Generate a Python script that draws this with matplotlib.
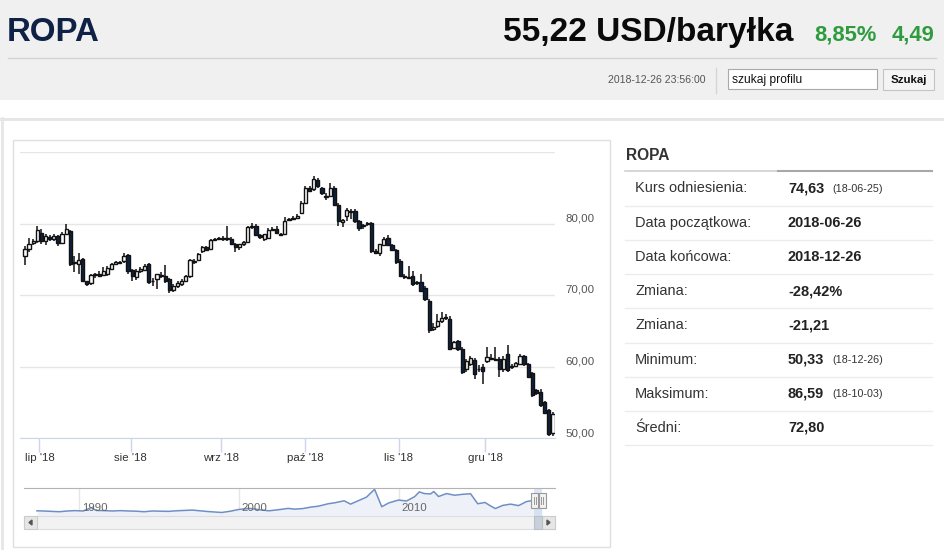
import numpy as np
import matplotlib.pyplot as plt
from matplotlib.patches import Rectangle, Polygon

plt.rcParams['font.family'] = ['Liberation Sans', 'DejaVu Sans']

W, H = 945, 550
PT = 0.72  # px -> pt przy dpi 100

# --- swiece dzienne (2018-06-26 .. 2018-12-26) ---
opens = [75.5, 76.4, 77.3, 77.5, 78.7, 77.6, 78.1, 77.8, 78.2, 77.3,
         78.6, 78.9, 74.5, 74.4, 75.0, 71.9, 71.7, 72.8, 73.0, 72.8,
         72.9, 73.7, 74.4, 74.5, 74.7, 75.6, 73.5, 72.5, 73.3, 73.5,
         74.3, 72.0, 72.2, 72.8, 72.6, 72.2, 70.7, 71.2, 71.5, 72.0,
         72.6, 74.6, 74.9, 76.1, 76.7, 76.5, 77.7, 77.9, 78.0, 77.8,
         77.9, 77.1, 76.7, 77.2, 77.4, 79.5, 79.7, 78.4, 77.8, 78.0,
         79.1, 79.3, 78.5, 78.6, 80.5, 80.6, 80.8, 81.5, 82.9, 85.0,
         84.8, 86.1, 84.9, 83.7, 83.9, 85.0, 82.6, 80.2, 81.0, 81.6,
         81.8, 80.3, 79.6, 80.0, 80.1, 76.2, 75.9, 77.0, 78.0, 77.0,
         76.3, 74.7, 72.6, 72.5, 72.6, 71.8, 71.8, 71.0, 69.2, 65.3,
         65.6, 66.3, 66.8, 66.7, 62.6, 63.5, 62.5, 59.6, 60.3, 60.9,
         59.6, 60.0, 60.7, 61.2, 61.0, 61.1, 59.6, 61.7, 60.0, 60.1,
         60.4, 61.4, 60.3, 59.1, 56.7, 56.5, 55.0, 53.9, 50.7]
highs = [76.8, 78.0, 77.9, 79.6, 79.2, 78.5, 78.4, 78.6, 78.4, 78.8,
         79.9, 79.1, 75.5, 75.9, 75.2, 72.0, 72.9, 73.1, 73.3, 73.9,
         74.0, 74.5, 74.8, 74.7, 75.9, 75.8, 73.7, 73.6, 73.9, 74.4,
         74.5, 72.4, 73.0, 73.2, 74.2, 72.4, 71.6, 71.9, 72.2, 72.8,
         75.0, 75.0, 75.9, 76.9, 76.9, 77.9, 78.0, 78.1, 78.3, 79.7,
         78.1, 77.3, 77.2, 77.6, 79.6, 80.1, 79.9, 78.6, 78.6, 79.4,
         79.5, 79.6, 78.7, 80.9, 80.8, 81.0, 81.3, 83.1, 85.2, 85.3,
         86.6, 86.4, 85.1, 84.2, 85.7, 85.3, 82.8, 80.6, 82.2, 82.0,
         82.0, 80.5, 80.0, 80.2, 80.2, 76.4, 77.2, 78.1, 78.4, 77.2,
         76.5, 75.0, 73.0, 74.0, 73.3, 72.0, 72.9, 71.2, 69.4, 66.1,
         67.4, 67.6, 67.3, 67.0, 63.6, 63.7, 62.7, 61.0, 61.4, 61.2,
         60.2, 60.3, 62.7, 61.8, 62.7, 61.3, 61.5, 63.0, 60.4, 60.6,
         61.7, 61.6, 60.5, 59.3, 56.9, 56.8, 55.2, 54.1, 53.6]
lows = [74.2, 76.0, 77.0, 77.3, 77.2, 77.0, 77.6, 77.5, 76.9, 77.1,
        78.4, 74.1, 73.2, 73.0, 71.8, 71.2, 71.4, 72.4, 72.5, 72.6,
        72.7, 73.5, 74.2, 74.3, 74.5, 73.0, 72.0, 72.1, 73.1, 73.3,
        71.6, 71.3, 70.9, 72.4, 71.7, 70.3, 70.4, 71.0, 71.3, 71.9,
        72.4, 74.4, 74.7, 75.9, 76.2, 76.3, 77.5, 77.7, 77.6, 77.5,
        77.0, 76.0, 76.3, 76.9, 77.3, 79.3, 78.3, 77.9, 77.6, 77.8,
        78.9, 78.6, 78.2, 78.4, 80.3, 80.5, 80.6, 81.3, 82.7, 84.4,
        84.6, 85.0, 84.0, 83.3, 83.7, 82.5, 79.7, 79.5, 80.3, 80.6,
        80.1, 79.0, 79.3, 79.6, 75.9, 75.7, 75.5, 76.8, 76.9, 76.1,
        74.4, 72.5, 72.3, 72.2, 71.2, 71.4, 70.4, 69.2, 64.7, 65.0,
        65.4, 66.1, 66.5, 62.3, 62.4, 62.2, 58.9, 59.3, 60.1, 58.2,
        59.2, 57.6, 60.5, 60.9, 60.8, 58.6, 59.3, 59.2, 59.7, 59.9,
        60.2, 60.1, 58.4, 55.8, 56.0, 54.4, 53.3, 50.3, 50.3]
closes = [76.4, 77.2, 77.5, 79.1, 77.5, 78.2, 77.8, 78.3, 77.3, 78.6,
          79.3, 74.3, 74.6, 74.9, 71.9, 71.5, 72.8, 72.9, 72.7, 73.3,
          73.8, 74.4, 74.6, 74.5, 75.4, 73.3, 72.6, 73.4, 73.6, 74.1,
          71.8, 71.9, 72.9, 72.6, 71.9, 70.7, 71.3, 71.7, 72.0, 72.6,
          74.9, 74.8, 75.7, 76.7, 76.3, 77.7, 77.9, 77.8, 77.8, 78.0,
          77.1, 76.7, 77.1, 77.4, 79.5, 79.7, 78.4, 78.1, 78.5, 79.1,
          79.2, 78.7, 78.4, 80.4, 80.6, 80.8, 81.1, 82.9, 85.0, 84.6,
          86.2, 85.2, 84.2, 83.9, 84.9, 82.6, 80.3, 80.5, 81.9, 81.8,
          80.4, 79.4, 79.8, 80.1, 76.2, 75.9, 77.1, 77.9, 77.0, 76.3,
          74.6, 72.7, 72.5, 72.4, 71.5, 71.7, 70.6, 69.4, 65.1, 65.5,
          66.4, 66.8, 66.9, 62.5, 63.4, 62.4, 59.3, 60.8, 61.2, 59.0,
          59.7, 59.4, 61.3, 61.1, 60.9, 59.6, 61.0, 59.5, 60.1, 60.5,
          61.5, 60.3, 58.6, 56.0, 56.3, 54.6, 53.5, 50.5, 53.4]

month_labels = ["lip '18", "sie '18", "wrz '18", "paź '18", "lis '18", "gru '18"]
month_pos = [3.5, 25.6, 47.6, 68.0, 90.6, 111.6]
y_ticks = [50, 60, 70, 80, 90]
y_labels = ['50,00', '60,00', '70,00', '80,00', '']

# --- nawigator (historia dlugoterminowa) ---
nav_years = [1987.4, 1987.8, 1988.3, 1988.8, 1989.3, 1989.8, 1990.3, 1990.7, 1990.8, 1991.1,
             1991.6, 1992.1, 1992.6, 1993.1, 1993.6, 1994.1, 1994.6, 1995.1, 1995.6, 1996.1,
             1996.6, 1997.1, 1997.6, 1998.1, 1998.6, 1998.95, 1999.5, 2000.0, 2000.7, 2001.2,
             2001.9, 2002.5, 2003.1, 2003.5, 2004.0, 2004.6, 2005.0, 2005.6, 2006.0, 2006.6,
             2007.0, 2007.5, 2008.0, 2008.5, 2008.95, 2009.4, 2010.0, 2010.5, 2011.0, 2011.3,
             2011.6, 2012.0, 2012.2, 2012.5, 2013.0, 2013.5, 2014.0, 2014.5, 2014.95, 2015.4,
             2015.7, 2016.05, 2016.5, 2017.0, 2017.5, 2018.0, 2018.5, 2018.75, 2018.98]
nav_values = [19, 18, 16, 14, 18, 20, 18, 33, 36, 21,
              20, 18, 20, 18, 17, 14, 18, 17, 16, 19,
              21, 23, 19, 15, 12, 10, 17, 26, 32, 26,
              19, 25, 32, 28, 31, 40, 44, 57, 62, 73,
              55, 74, 93, 135, 41, 62, 77, 72, 95, 121,
              112, 110, 123, 96, 112, 103, 108, 111, 57, 64,
              48, 31, 48, 55, 47, 69, 76, 85, 53]
nav_ticks = [1990, 2000, 2010]

# --- tabela po prawej ---
info_title = 'ROPA'
info_labels = ['Kurs odniesienia:', 'Data początkowa:', 'Data końcowa:', 'Zmiana:',
               'Zmiana:', 'Minimum:', 'Maksimum:', 'Średni:']
info_values = ['74,63', '2018-06-26', '2018-12-26', '-28,42%', '-21,21', '50,33', '86,59', '72,80']
info_dates = ['(18-06-25)', '', '', '', '', '(18-12-26)', '(18-10-03)', '']

fig = plt.figure(figsize=(W / 100, H / 100), dpi=100)


def px_axes(x0, y0, x1, y1):
    return fig.add_axes([x0 / W, 1 - y1 / H, (x1 - x0) / W, (y1 - y0) / H])


bg = fig.add_axes([0, 0, 1, 1])
bg.set_xlim(0, W)
bg.set_ylim(H, 0)
bg.axis('off')

# naglowek
bg.add_patch(Rectangle((0, 0), W, 100, color='#f0f0f0', lw=0))
bg.plot([8, 936], [58, 58], color='#d4d4d4', lw=1)
bg.text(7, 41, 'ROPA', fontsize=33 * PT, fontweight='bold', color='#0f2246', va='baseline')
bg.text(793, 41, '55,22 USD/baryłka', fontsize=33.5 * PT, fontweight='bold',
        color='#0a0a0a', ha='right', va='baseline')
bg.text(877, 41, '8,85%', fontsize=22 * PT, fontweight='bold', color='#2e9b3e',
        ha='right', va='baseline')
bg.text(935, 41, '4,49', fontsize=22 * PT, fontweight='bold', color='#2e9b3e',
        ha='right', va='baseline')
bg.text(705, 80, '2018-12-26 23:56:00', fontsize=10.5 * PT, color='#555555',
        ha='right', va='center')
bg.plot([716, 716], [68, 93], color='#d6d6d6', lw=1)
bg.add_patch(Rectangle((728, 69), 149, 20, facecolor='white', edgecolor='#a9a9a9', lw=0.8))
bg.text(732, 79.5, 'szukaj profilu', fontsize=12 * PT, color='#111111', va='center')
bg.add_patch(Rectangle((883, 69), 51, 21, facecolor='#f4f4f4', edgecolor='#c4c4c4', lw=0.8))
bg.text(908.5, 80, 'Szukaj', fontsize=11.4 * PT, fontweight='bold', color='#111111',
        ha='center', va='center')

# panel
bg.add_patch(Rectangle((0, 118), W, 3, color='#e6e6e6', lw=0))
bg.plot([1.5, 1.5], [118, H], color='#e6e6e6', lw=2)
bg.add_patch(Rectangle((13, 140), 597, 407, facecolor='white', edgecolor='#e0e0e0', lw=1))

# tabela
bg.text(626, 155, info_title, fontsize=15.5 * PT, fontweight='bold', color='#333333', va='center')
bg.plot([625, 778], [171, 171], color='#d0d0d0', lw=1.2)
bg.plot([778, 932], [171, 171], color='#a8a8a8', lw=1.5)
for i, (lab, val, dt) in enumerate(zip(info_labels, info_values, info_dates)):
    yy = 188.5 + 34.2 * i
    bg.text(635, yy, lab, fontsize=14.5 * PT, color='#333333', va='center')
    bg.text(788, yy, val, fontsize=14.5 * PT, fontweight='bold', color='#222222', va='center')
    if dt:
        bg.text(832, yy + 0.5, dt, fontsize=10.7 * PT, color='#333333', va='center')
    bg.plot([625, 932], [yy + 17.2, yy + 17.2], color='#ececec', lw=1)

# --- wykres swiecowy ---
ax = px_axes(20, 152, 555, 438)
ax.set_facecolor('none')
o, hi, lo, c = (np.array(v) for v in (opens, highs, lows, closes))
x = np.arange(len(o))
up = c >= o
ax.vlines(x, lo, hi, color='#111111', lw=1.1, zorder=2)
ax.bar(x, np.maximum(np.abs(c - o), 0.12), bottom=np.minimum(o, c), width=0.8,
       color=np.where(up, 'white', '#0d2240'), edgecolor='#111111', lw=1.0, zorder=3)
ax.set_xlim(-1.2, len(o) - 1 + 0.5)
ax.set_ylim(50, 90)
ax.yaxis.tick_right()
ax.set_yticks(y_ticks, y_labels)
for t in ax.get_yticklabels():
    t.set_verticalalignment('bottom')
ax.tick_params(axis='y', length=0, pad=10 * PT, labelsize=11.5 * PT, labelcolor='#555555')
ax.set_xticks(month_pos, month_labels)
ax.tick_params(axis='x', length=10, width=1, color='#ccd6eb', pad=1,
               labelsize=11.5 * PT, labelcolor='#333333')
ax.grid(axis='y', color='#e6e6e6', lw=1, zorder=0)
for s in ('top', 'left', 'right'):
    ax.spines[s].set_visible(False)
ax.spines['bottom'].set_color('#ccd6eb')

# --- nawigator ---
nav = px_axes(24, 488, 555, 516)
nav.set_facecolor('none')
nav.set_xlim(1986.59, 1986.59 + 531 / 16)
nav.set_ylim(-9, 142)
nav.fill_between(nav_years, nav_values, -9, color='#eef2f8', lw=0)
nav.plot(nav_years, nav_values, color='#6f8fc4', lw=1.1)
for yr in nav_ticks:
    nav.axvline(yr, color='#e6e6e6', lw=1, zorder=0)
    nav.text(yr + 0.2, 34, str(yr), fontsize=11.5 * PT, color='#666666', va='center')
nav.axvspan(2018.47, 2018.97, color='#c6d6ee', alpha=0.6, lw=0)
nav.set_xticks([])
nav.set_yticks([])
for s in ('bottom', 'left', 'right'):
    nav.spines[s].set_visible(False)
nav.spines['top'].set_color('#b3b3b3')

# --- uchwyty i pasek przewijania ---
fg = fig.add_axes([0, 0, 1, 1])
fg.set_xlim(0, W)
fg.set_ylim(H, 0)
fg.axis('off')
for hx in (531, 538.6):
    fg.add_patch(Rectangle((hx, 493), 7, 15, facecolor='#f2f2f2', edgecolor='#999999', lw=0.8))
    fg.plot([hx + 2.5, hx + 2.5], [497, 504], color='#999999', lw=0.7)
    fg.plot([hx + 4.5, hx + 4.5], [497, 504], color='#999999', lw=0.7)
fg.add_patch(Rectangle((24, 516), 531, 13, facecolor='#f2f2f2', edgecolor='#dddddd', lw=0.8))
fg.add_patch(Rectangle((24, 516), 13, 13, facecolor='#e6e6e6', edgecolor='#cccccc', lw=0.8))
fg.add_patch(Rectangle((542, 516), 13, 13, facecolor='#e6e6e6', edgecolor='#cccccc', lw=0.8))
fg.add_patch(Rectangle((534, 516), 8, 13, facecolor='#c8d0da', edgecolor='#b8c0ca', lw=0.8))
fg.add_patch(Polygon([[32, 520], [32, 525], [29, 522.5]], color='#555555'))
fg.add_patch(Polygon([[547, 520], [547, 525], [550, 522.5]], color='#555555'))

fig.savefig('out.png', dpi=100)
